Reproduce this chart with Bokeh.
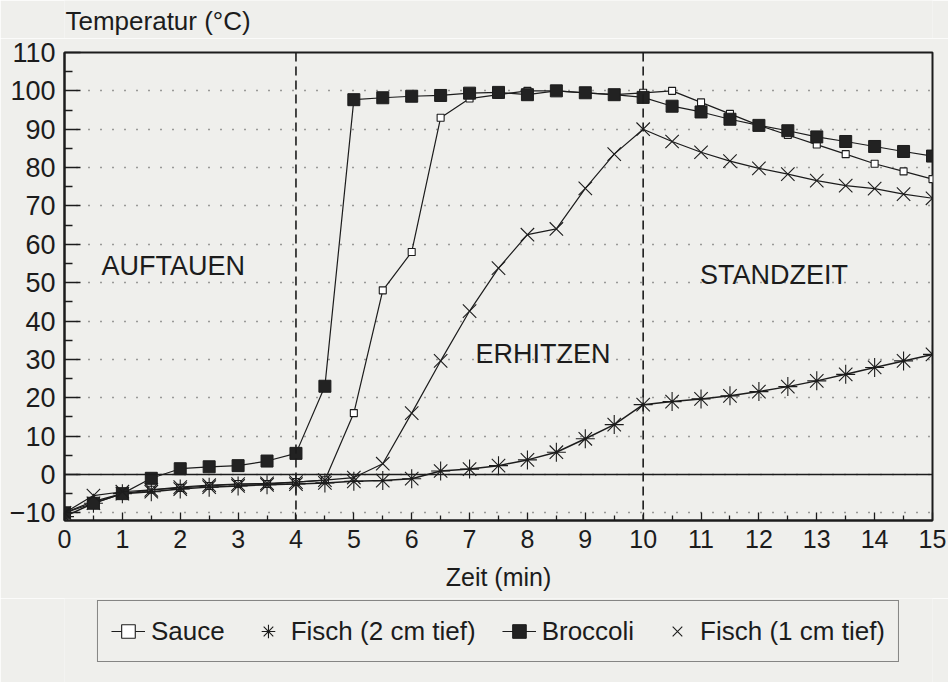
from bokeh.plotting import figure
from bokeh.layouts import column
from bokeh.models import (FixedTicker, Span, Label, Legend, LegendItem, Range1d)
from bokeh.embed import file_html
from bokeh.resources import INLINE

# ---- data ----
zeit = [0, 0.5, 1, 1.5, 2, 2.5, 3, 3.5, 4, 4.5, 5, 5.5, 6, 6.5, 7, 7.5,
        8, 8.5, 9, 9.5, 10, 10.5, 11, 11.5, 12, 12.5, 13, 13.5, 14, 14.5, 15]

sauce = [-10, -7, -5, -4, -3.5, -3, -2.5, -2.5, -2, -1.5, 16, 48, 58, 93, 98, 99,
         100, 100, 99.5, 99, 99.5, 100, 97, 94, 91, 88.5, 86, 83.5, 81, 79, 77]

broccoli = [-10, -7.5, -5, -1, 1.5, 2, 2.3, 3.5, 5.5, 23, 97.7, 98.2, 98.6, 98.8, 99.4, 99.6,
            99, 100, 99.5, 99, 98.3, 96, 94.5, 92.6, 91, 89.6, 88, 86.8, 85.5, 84.2, 83]

fisch_1cm = [-10, -5.5, -4.5, -4, -3.3, -2.8, -2.5, -2.3, -2, -1.5, -0.8, 2.8, 16, 29.6, 42.6, 53.8,
             62.5, 64, 74.6, 83.5, 90, 86.8, 84, 81.7, 79.8, 78.3, 76.6, 75.3, 74.5, 73.1, 72]

fisch_2cm = [-11, -7.5, -5, -4.5, -3.8, -3.3, -3, -2.7, -2.5, -2.2, -1.8, -1.6, -1.1, 0.9, 1.4, 2.3,
             3.8, 5.8, 9.3, 13, 18.2, 19, 19.7, 20.5, 21.6, 22.9, 24.4, 26.1, 27.9, 29.6, 31.3]

series_names = ["Sauce", "Fisch (2 cm tief)", "Broccoli", "Fisch (1 cm tief)"]

x_ticks = list(range(0, 16))
x_minor = [i + 0.5 for i in range(0, 15)]
y_ticks = list(range(-10, 111, 10))
y_minor = list(range(-5, 110, 10))
phase_bounds = [4, 10]
phase_names = ["AUFTAUEN", "ERHITZEN", "STANDZEIT"]
y_title = "Temperatur (°C)"
x_title = "Zeit (min)"

BG = "#efefec"
INK = "#1c1c1c"
FONT = "Liberation Sans"
W = 948

# ---- title strip (frame starts at x=64, one unit = one pixel) ----
t = figure(width=W, height=38, x_range=Range1d(0, W - 64), y_range=Range1d(0, 38),
           x_axis_type=None, y_axis_type=None,
           output_backend="svg", toolbar_location=None,
           min_border_left=64, min_border_right=0, min_border_top=0, min_border_bottom=0,
           background_fill_color=BG, border_fill_color=BG)
t.grid.visible = False
t.outline_line_color = None
t.add_layout(Label(x=1, y=18, text=y_title, text_align="left", text_baseline="middle",
                   text_font=FONT, text_font_size="26px", text_color=INK))

# ---- main chart ----
p = figure(width=W, height=560, x_range=(0, 15), y_range=(-12, 110),
           output_backend="svg", toolbar_location=None,
           min_border_left=63, min_border_right=16, min_border_top=14, min_border_bottom=78,
           background_fill_color=BG, border_fill_color=BG)

p.outline_line_color = INK
p.outline_line_width = 2

p.xaxis.ticker = FixedTicker(ticks=x_ticks, minor_ticks=x_minor)
p.yaxis.ticker = FixedTicker(ticks=y_ticks, minor_ticks=y_minor)
for ax in (p.xaxis, p.yaxis):
    ax.axis_line_color = INK
    ax.axis_line_width = 2
    ax.major_tick_line_color = INK
    ax.minor_tick_line_color = INK
    ax.major_tick_line_width = 1.3
    ax.minor_tick_line_width = 1.3
    ax.major_tick_out = 0
    ax.minor_tick_out = 0
    ax.major_label_text_font = FONT
    ax.major_label_text_color = INK
p.yaxis.major_tick_in = 16
p.yaxis.minor_tick_in = 8
p.xaxis.major_tick_in = 8
p.xaxis.minor_tick_in = 5
p.yaxis.major_label_text_font_size = "27px"
p.xaxis.major_label_text_font_size = "25px"
p.yaxis.major_label_standoff = 9
p.xaxis.major_label_standoff = 9

p.xaxis.axis_label = x_title
p.xaxis.axis_label_text_font = FONT
p.xaxis.axis_label_text_font_size = "25px"
p.xaxis.axis_label_text_font_style = "normal"
p.xaxis.axis_label_text_color = INK
p.xaxis.axis_label_standoff = 12

p.xgrid.visible = False
p.ygrid.grid_line_color = "#444444"
p.ygrid.grid_line_width = 1.6
p.ygrid.grid_line_dash = "1 11"

p.add_layout(Span(location=0, dimension="width", line_color=INK, line_width=1.5))
for b in phase_bounds:
    p.add_layout(Span(location=b, dimension="height", line_color=INK,
                      line_width=1.6, line_dash="9 5"))


def draw_series(fig):
    r = {}
    r["sauce"] = (fig.line(zeit, sauce, line_color=INK, line_width=1.2),
                  fig.scatter(zeit, sauce, marker="square", size=7, fill_color="white",
                              line_color=INK, line_width=1.1))
    r["f2"] = (fig.line(zeit, fisch_2cm, line_color=INK, line_width=1.5),
               fig.scatter(zeit, fisch_2cm, marker="asterisk", size=19, line_color=INK,
                           line_width=1.1))
    r["br"] = (fig.line(zeit, broccoli, line_color=INK, line_width=1.2),
               fig.scatter(zeit, broccoli, marker="square", size=12, fill_color="#222222",
                           line_color=INK, line_width=1))
    r["f1"] = (fig.line(zeit, fisch_1cm, line_color=INK, line_width=1.2),
               fig.scatter(zeit, fisch_1cm, marker="x", size=19, line_color=INK,
                           line_width=1.1))
    return r


draw_series(p)

for name, (lx, ly) in zip(phase_names, [(1.88, 54.3), (8.27, 31.4), (12.26, 52.0)]):
    p.add_layout(Label(x=lx, y=ly, text=name, text_align="center", text_baseline="middle",
                       text_font=FONT, text_font_size="27px", text_color=INK))

# ---- legend strip (own figure; series drawn out of view, used only for legend glyphs) ----
q = figure(width=W, height=84, x_range=Range1d(0, 15), y_range=Range1d(1000, 1001),
           x_axis_type=None, y_axis_type=None,
           output_backend="svg", toolbar_location=None,
           min_border_left=63, min_border_right=16, min_border_top=0, min_border_bottom=0,
           background_fill_color=BG, border_fill_color=BG)
q.grid.visible = False
q.outline_line_color = None
rq = draw_series(q)

legend = Legend(items=[
    LegendItem(label=series_names[0], renderers=[rq["sauce"][0], rq["sauce"][1]]),
    LegendItem(label=series_names[1], renderers=[rq["f2"][1]]),
    LegendItem(label=series_names[2], renderers=[rq["br"][0], rq["br"][1]]),
    LegendItem(label=series_names[3], renderers=[rq["f1"][1]]),
], orientation="horizontal", location="top_center")
legend.label_text_font = FONT
legend.label_text_font_size = "26px"
legend.label_text_color = INK
legend.glyph_width = 34
legend.glyph_height = 34
legend.label_standoff = 6
legend.spacing = 26
legend.padding = 13
legend.margin = 2
legend.border_line_color = INK
legend.border_line_width = 1.5
legend.background_fill_color = BG
legend.background_fill_alpha = 1
q.add_layout(legend, "center")

layout = column(t, p, q, spacing=0)
open("out.html", "w").write(file_html(layout, INLINE))
